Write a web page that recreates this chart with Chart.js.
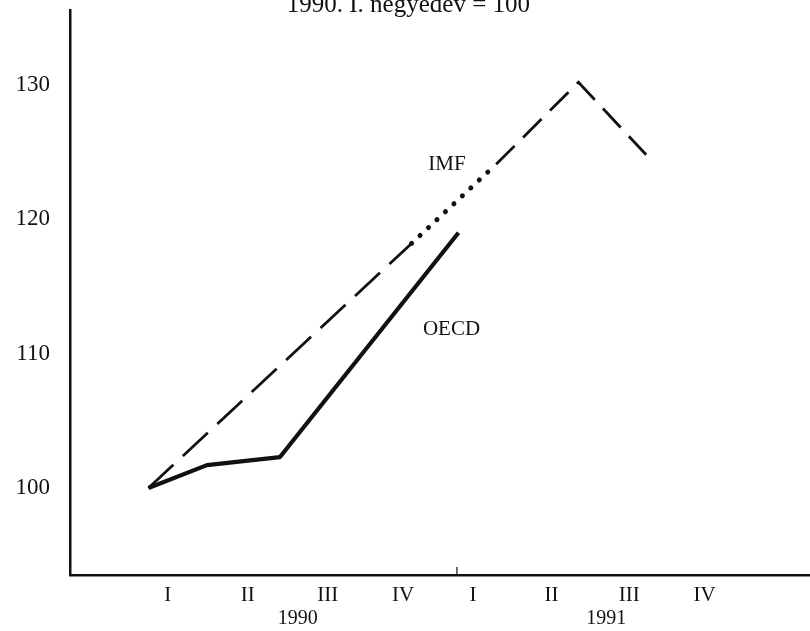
<!DOCTYPE html>
<html>
<head>
<meta charset="utf-8">
<script src="https://cdn.jsdelivr.net/npm/chart.js@4"></script>
<style>
html,body{margin:0;padding:0;background:#fff;}
#wrap{width:810px;height:631px;position:relative;}
</style>
</head>
<body>
<div id="wrap"><canvas id="c" width="810" height="631"></canvas></div>
<script>
// ---- data (quarter index: 0 = 1990 I) ----
const quarterLabels = ['I','II','III','IV','I','II','III','IV'];
const quarterTicks  = [0, 1.04, 2.08, 3.06, 3.97, 4.99, 6.0, 6.98];
const yearLabels    = ['1990', '1991'];
const yearTicks     = [1.69, 5.7];
const yTicks        = [100, 110, 120, 130];

const oecdX = [-0.25, 0.51, 1.46, 3.78];
const oecdY = [100, 101.7, 102.3, 119.0];

const imfX = [-0.25, 3.17, 4.27, 5.34, 6.22];
const imfY = [100, 118.2, 124.1, 130.2, 124.8];

const titleText = '1990. I. negyedév = 100';
const seriesNames = ['IMF', 'OECD'];
const seriesLabelAt = [[3.63, 124.1], [3.69, 111.8]];
const yearBoundary = 3.76;

const toPts = (xs, ys) => xs.map((x, i) => ({x, y: ys[i]}));
const serif = '"Liberation Serif", "DejaVu Serif", serif';

const annot = {
  id: 'annot',
  afterDraw(chart) {
    const {ctx} = chart;
    const xs = chart.scales.x, ys = chart.scales.y;
    ctx.save();
    ctx.fillStyle = '#111';
    // title (partly cut at top)
    ctx.font = '25px ' + serif;
    ctx.textAlign = 'right';
    ctx.textBaseline = 'alphabetic';
    ctx.fillText(titleText, 530, 12);
    // series labels
    ctx.font = '21px ' + serif;
    ctx.textAlign = 'center';
    ctx.textBaseline = 'middle';
    seriesNames.forEach((n, i) => {
      ctx.fillText(n, xs.getPixelForValue(seriesLabelAt[i][0]), ys.getPixelForValue(seriesLabelAt[i][1]));
    });
    // year boundary tick
    const bx = xs.getPixelForValue(yearBoundary);
    ctx.strokeStyle = '#111';
    ctx.lineWidth = 1.2;
    ctx.beginPath();
    ctx.moveTo(bx, chart.chartArea.bottom);
    ctx.lineTo(bx, chart.chartArea.bottom - 8);
    ctx.stroke();
    ctx.restore();
  }
};

const noPadH = s => { s.paddingLeft = 0; s.paddingRight = 0; };

new Chart(document.getElementById('c'), {
  type: 'line',
  data: {
    datasets: [
      {
        label: 'IMF',
        data: toPts(imfX, imfY),
        borderColor: '#111',
        borderWidth: 2.8,
        borderDash: [34, 13],
        pointRadius: 0,
        tension: 0,
        segment: {
          borderDash: c => c.p0DataIndex === 0 ? [34, 13] : (c.p0DataIndex === 1 ? [0.1, 11.5] : [26, 12]),
          borderWidth: c => c.p0DataIndex === 1 ? 5 : 2.8,
          borderCapStyle: c => c.p0DataIndex === 1 ? 'round' : 'butt'
        }
      },
      {
        label: 'OECD',
        data: toPts(oecdX, oecdY),
        borderColor: '#111',
        borderWidth: 4.2,
        pointRadius: 0,
        tension: 0,
        borderJoinStyle: 'round'
      }
    ]
  },
  options: {
    responsive: false,
    animation: false,
    layout: {padding: {top: 10, right: 0, left: 0, bottom: 0}},
    plugins: {legend: {display: false}, tooltip: {enabled: false}, title: {display: false}},
    scales: {
      x: {
        type: 'linear',
        min: -1.27, max: 8.35,
        afterFit: s => { s.height = 32; noPadH(s); },
        afterBuildTicks: s => { s.ticks = quarterTicks.map(v => ({value: v})); },
        grid: {display: false},
        border: {display: true, color: '#111', width: 2.5},
        ticks: {
          autoSkip: false, maxRotation: 0, padding: 0,
          color: '#111', font: {family: serif, size: 21},
          callback: (v) => quarterLabels[quarterTicks.indexOf(v)]
        }
      },
      x2: {
        type: 'linear', position: 'bottom',
        min: -1.27, max: 8.35,
        afterFit: s => { s.height = 24; noPadH(s); },
        afterBuildTicks: s => { s.ticks = yearTicks.map(v => ({value: v})); },
        grid: {display: false, drawTicks: false},
        border: {display: false},
        ticks: {
          autoSkip: false, maxRotation: 0, padding: 0,
          color: '#111', font: {family: serif, size: 20},
          callback: (v) => yearLabels[yearTicks.indexOf(v)]
        }
      },
      y: {
        type: 'linear',
        min: 93.52, max: 135.58,
        afterFit: s => { s.width = 70; s.paddingTop = 0; s.paddingBottom = 0; },
        afterBuildTicks: s => { s.ticks = yTicks.map(v => ({value: v})); },
        grid: {display: false, drawTicks: false},
        border: {display: true, color: '#111', width: 2.5},
        ticks: {padding: 20, color: '#111', font: {family: serif, size: 23}}
      }
    }
  },
  plugins: [annot]
});
</script>
</body>
</html>
